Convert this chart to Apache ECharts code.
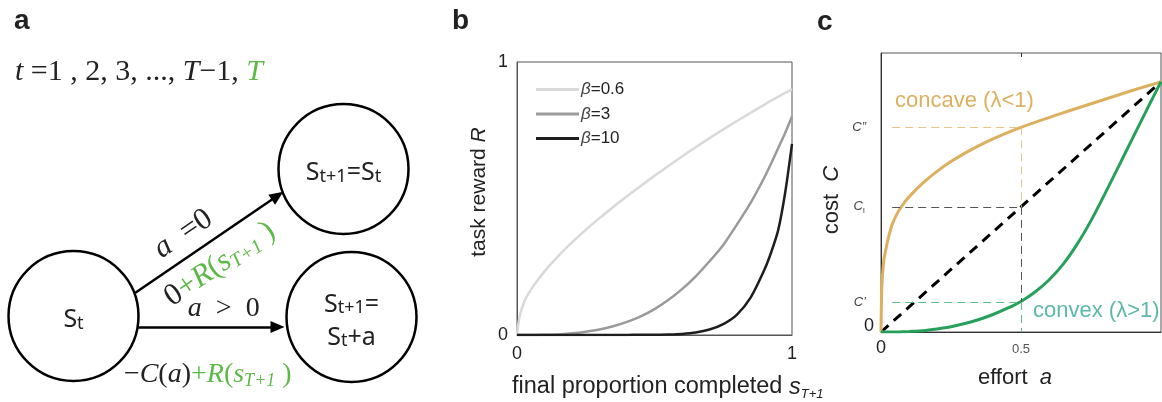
<!DOCTYPE html>
<html>
<head>
<meta charset="utf-8">
<title>effort model</title>
<script src="https://cdn.jsdelivr.net/npm/echarts@6/dist/echarts.min.js"></script>
<style>
  html, body { margin: 0; padding: 0; background: #fff; }
  #chart { width: 1162px; height: 402px; }
</style>
</head>
<body>
<div id="chart"></div>
<script>
// ---- panel a: state diagram ----
const nodeLabels = [
  '{S|S}{t|t}',
  '{S|S}{t|t+1}{S|=S}{t|t}',
  '{S|S}{t|t+1}{S|=}\n{S|S}{t|t}{S|+a}'
];
const nodeX = [73.5, 343.5, 351.5];
const nodeY = [316, 169, 317];
// arrow start points and arrow-head centres
const edgeFrom = [[135, 293], [138, 327]];
const edgeTo = [[277.5, 195.8], [277.5, 327]];

// ---- panel b: task reward vs final proportion completed ----
const sValues = [0, 0.01, 0.03, 0.06, 0.1, 0.15, 0.2, 0.25, 0.3, 0.35, 0.4, 0.45, 0.5,
  0.55, 0.6, 0.65, 0.7, 0.75, 0.8, 0.85, 0.9, 0.925, 0.95, 0.975, 1];
const rewardBeta06 = [0, 0.07, 0.13, 0.18, 0.233, 0.289, 0.339, 0.385, 0.428, 0.469, 0.508, 0.546, 0.583,
  0.619, 0.654, 0.688, 0.721, 0.753, 0.784, 0.814, 0.844, 0.859, 0.873, 0.887, 0.90];
const rewardBeta3 = [0, 0, 0, 0, 0.001, 0.002, 0.006, 0.012, 0.02, 0.032, 0.048, 0.068, 0.095,
  0.128, 0.168, 0.215, 0.27, 0.33, 0.405, 0.485, 0.578, 0.63, 0.685, 0.74, 0.80];
const rewardBeta10 = [0, 0, 0, 0, 0, 0, 0, 0, 0, 0, 0, 0.001, 0.001,
  0.002, 0.004, 0.009, 0.02, 0.04, 0.075, 0.138, 0.24, 0.305, 0.385, 0.52, 0.70];
const betaNames = ['β=0.6', 'β=3', 'β=10'];

// ---- panel c: cost vs effort ----
const effortValues = [0, 0.002, 0.005, 0.01, 0.02, 0.03, 0.04, 0.06, 0.08, 0.1, 0.15, 0.2, 0.25, 0.3,
  0.35, 0.4, 0.45, 0.5, 0.55, 0.6, 0.65, 0.7, 0.75, 0.8, 0.85, 0.9, 0.95, 1];
const costConcave = [0, 0.15, 0.22, 0.285, 0.345, 0.392, 0.43, 0.478, 0.512, 0.54, 0.596, 0.642, 0.681, 0.715,
  0.745, 0.772, 0.796, 0.818, 0.838, 0.857, 0.876, 0.894, 0.912, 0.93, 0.948, 0.966, 0.983, 1.0];
const costConvex = [0, 0, 0, 0, 0, 0, 0, 0, 0.001, 0.002, 0.005, 0.012, 0.021, 0.034,
  0.05, 0.07, 0.094, 0.122, 0.16, 0.208, 0.27, 0.35, 0.445, 0.553, 0.665, 0.778, 0.89, 1.0];
const diagEffort = [0, 1];
const diagCost = [0, 1];
const cPrime = 0.12;
const cLinear = 0.5;
const cDoublePrime = 0.818;
const costAxisMax = 1.115;

const SANS = "'Liberation Sans', Arial, Helvetica, sans-serif";
const SERIF = "'Liberation Serif', 'DejaVu Serif', serif";
const NODE_FONT = "'Noto Sans', 'Open Sans', sans-serif";
const GREEN = '#5cb947';
const GOLD = '#dcb05f';
const CONVEX = '#27a05b';

const zip = (xs, ys) => xs.map((x, i) => [x, ys[i]]);

const mathStyles = (size, subSize) => ({
  m: { fontFamily: SERIF, fontSize: size, color: '#222' },
  i: { fontFamily: SERIF, fontSize: size, fontStyle: 'italic', color: '#222' },
  g: { fontFamily: SERIF, fontSize: size, color: GREEN },
  gi: { fontFamily: SERIF, fontSize: size, fontStyle: 'italic', color: GREEN },
  gs: { fontFamily: SERIF, fontSize: subSize, fontStyle: 'italic', color: GREEN, padding: [Math.round(subSize * 0.7), 0, 0, 0] }
});
const rewardLabel = '{g|+}{gi|R}{g|(}{gi|s}{gs|T+1}{g| )}';

// graphic rich styles use zrender naming (fill)
const txt = (size, extra) => Object.assign({ fontFamily: SANS, fontSize: size, fill: '#222' }, extra || {});

const guide = (color) => ({
  silent: true,
  symbol: 'none',
  label: { show: false },
  lineStyle: { color: color, width: 1, type: [8, 5] },
  animation: false
});

const curve = { showSymbol: false, symbol: 'none', smooth: 0.25 };

const chart = echarts.init(document.getElementById('chart'));

chart.setOption({
  animation: false,
  backgroundColor: '#fff',
  grid: [
    { left: 517, top: 62, width: 275, height: 273, show: true, borderColor: '#555', borderWidth: 1, outerBoundsMode: 'none' },
    { left: 881, top: 53, width: 280, height: 279, show: true, borderColor: '#555', borderWidth: 1, outerBoundsMode: 'none' },
    { left: 0, top: 0, width: 420, height: 402, outerBoundsMode: 'none' }
  ],
  xAxis: [
    {
      gridIndex: 0, type: 'value', min: 0, max: 1, interval: 1,
      axisLine: { lineStyle: { color: '#555' } },
      axisTick: { show: false }, splitLine: { show: false },
      axisLabel: { fontFamily: SANS, fontSize: 18, color: '#222', margin: 10 }
    },
    {
      gridIndex: 1, type: 'value', min: 0, max: 1, interval: 0.5,
      axisLine: { lineStyle: { color: '#333' } },
      axisTick: { show: false }, splitLine: { show: false },
      axisLabel: {
        margin: 7, showMaxLabel: false,
        formatter: v => (v === 0 ? '{z|0}' : (v === 0.5 ? '{h|0.5}' : '')),
        rich: {
          z: { fontFamily: SANS, fontSize: 18, color: '#222' },
          h: { fontFamily: SANS, fontSize: 13, color: '#555', padding: [4, 0, 0, 0] }
        }
      }
    },
    { gridIndex: 2, type: 'value', min: 0, max: 420, show: false }
  ],
  yAxis: [
    {
      gridIndex: 0, type: 'value', min: 0, max: 1, interval: 1,
      axisLine: { show: true, lineStyle: { color: '#555' } },
      axisTick: { show: false }, splitLine: { show: false },
      axisLabel: { fontFamily: SANS, fontSize: 18, color: '#222', margin: 9 }
    },
    {
      gridIndex: 1, type: 'value', min: 0, max: costAxisMax,
      axisLine: { show: true, lineStyle: { color: '#333' } },
      axisTick: { show: false }, splitLine: { show: false },
      axisLabel: {
        customValues: [0, cPrime, cLinear, cDoublePrime], margin: 7,
        formatter: v => {
          if (v === 0) return '{z|0}';
          if (v === cLinear) return '{c|C}{s|I}';
          if (v === cPrime) return '{c|C’}{p|}';
          return '{c|C”}{p|}';
        },
        rich: {
          z: { fontFamily: SANS, fontSize: 18, color: '#222', padding: [0, 0, 11, 0] },
          c: { fontFamily: SANS, fontSize: 13, fontStyle: 'italic', color: '#444' },
          s: { fontFamily: SANS, fontSize: 8, color: '#444', padding: [8, 9, 0, 0] },
          p: { width: 8 }
        }
      }
    },
    { gridIndex: 2, type: 'value', min: 0, max: 402, inverse: true, show: false }
  ],
  legend: {
    data: betaNames,
    left: 536, top: 81, orient: 'vertical', padding: 0,
    icon: 'rect', itemWidth: 43, itemHeight: 3, itemGap: 7.5,
    selectedMode: false,
    textStyle: {
      fontFamily: SANS, fontSize: 17, color: '#222', padding: [0, 0, 0, -3],
      rich: { b: { fontFamily: SANS, fontSize: 17, fontStyle: 'italic', color: '#444' } }
    },
    formatter: name => '{b|β}' + name.slice(1)
  },
  series: [
    Object.assign({
      name: betaNames[0], type: 'line', xAxisIndex: 0, yAxisIndex: 0,
      data: zip(sValues, rewardBeta06), color: '#d9d9d9',
      lineStyle: { color: '#d9d9d9', width: 2.5 }
    }, curve),
    Object.assign({
      name: betaNames[1], type: 'line', xAxisIndex: 0, yAxisIndex: 0,
      data: zip(sValues, rewardBeta3), color: '#9a9a9a',
      lineStyle: { color: '#9a9a9a', width: 2.5 }
    }, curve),
    Object.assign({
      name: betaNames[2], type: 'line', xAxisIndex: 0, yAxisIndex: 0,
      data: zip(sValues, rewardBeta10), color: '#1e1e1e',
      lineStyle: { color: '#1e1e1e', width: 2.5 }
    }, curve),
    {
      name: 'linear', type: 'line', xAxisIndex: 1, yAxisIndex: 1,
      data: zip(diagEffort, diagCost), showSymbol: false, symbol: 'none',
      lineStyle: { color: '#000', width: 3, type: [10, 7] },
      markLine: Object.assign(guide('#555'), {
        data: [
          [{ coord: [0.04, cLinear] }, { coord: [0.5, cLinear] }],
          [{ coord: [0.5, cLinear] }, { coord: [0.5, cPrime] }],
          // small inward tick on the top frame at a = 0.5
          [{ coord: [0.5, costAxisMax], lineStyle: { type: 'solid', color: '#333' } }, { coord: [0.5, costAxisMax - 0.016] }]
        ]
      })
    },
    Object.assign({
      name: 'concave', type: 'line', xAxisIndex: 1, yAxisIndex: 1,
      data: zip(effortValues, costConcave),
      lineStyle: { color: GOLD, width: 3 },
      markLine: Object.assign(guide('#e6c688'), {
        data: [
          [{ coord: [0.04, cDoublePrime] }, { coord: [0.5, cDoublePrime] }],
          [{ coord: [0.5, cDoublePrime] }, { coord: [0.5, cLinear] }]
        ]
      })
    }, curve),
    Object.assign({
      name: 'convex', type: 'line', xAxisIndex: 1, yAxisIndex: 1,
      data: zip(effortValues, costConvex),
      lineStyle: { color: CONVEX, width: 3 },
      markLine: Object.assign(guide('#5fbf8a'), {
        data: [
          [{ coord: [0.04, cPrime] }, { coord: [0.5, cPrime] }],
          [{ coord: [0.5, cPrime] }, { coord: [0.5, 0] }]
        ]
      })
    }, curve),
    {
      name: 'states', type: 'scatter', xAxisIndex: 2, yAxisIndex: 2,
      data: zip(nodeX, nodeY), symbol: 'circle', symbolSize: 130, silent: true, z: 2,
      itemStyle: { color: '#fff', borderColor: '#000', borderWidth: 2.5, opacity: 1 },
      label: {
        show: true, position: 'inside',
        formatter: p => nodeLabels[p.dataIndex],
        rich: {
          S: { fontFamily: NODE_FONT, fontSize: 25, color: '#222', lineHeight: 33, verticalAlign: 'bottom' },
          t: { fontFamily: NODE_FONT, fontSize: 18, color: '#222', lineHeight: 33, verticalAlign: 'bottom' }
        }
      },
      markLine: {
        silent: true,
        animation: false,
        symbol: ['none', 'triangle'],
        symbolSize: [12, 14],
        lineStyle: { color: '#000', width: 2.5, type: 'solid' },
        label: { show: true, rich: mathStyles(28, 18) },
        data: [
          [{ coord: edgeFrom[0], label: { position: 'insideMiddleTop', distance: 6, padding: [0, 26, 0, 0], rich: mathStyles(31, 20), formatter: '{i|a}{m|  =0}' } },
           { coord: edgeTo[0] }],
          [{ coord: edgeFrom[0], symbol: 'none', lineStyle: { color: 'rgba(0,0,0,0)', width: 0 }, label: { position: 'insideMiddleBottom', distance: 7, rich: mathStyles(31, 20), formatter: '{m|0}' + rewardLabel } },
           { coord: edgeTo[0], symbol: 'none' }],
          [{ coord: edgeFrom[1], label: { position: 'insideMiddleTop', distance: 4, padding: [0, 0, 0, 32], formatter: '{i|a}{m|  >  0}' } },
           { coord: edgeTo[1] }],
          [{ coord: edgeFrom[1], symbol: 'none', lineStyle: { color: 'rgba(0,0,0,0)', width: 0 }, label: { position: 'insideMiddleBottom', distance: 32, formatter: '{m|−}{i|C}{m|(}{i|a}{m|)}' + rewardLabel } },
           { coord: edgeTo[1], symbol: 'none' }]
        ]
      }
    }
  ],
  graphic: [
    // panel letters
    { type: 'text', x: 14, y: 21, style: { text: 'a', font: 'bold 28px ' + SANS, fill: '#222', verticalAlign: 'middle' } },
    { type: 'text', x: 452, y: 21, style: { text: 'b', font: 'bold 28px ' + SANS, fill: '#222', verticalAlign: 'middle' } },
    { type: 'text', x: 817, y: 22, style: { text: 'c', font: 'bold 28px ' + SANS, fill: '#222', verticalAlign: 'middle' } },
    // time steps
    {
      type: 'text', x: 15, y: 72,
      style: {
        text: '{i|t}{m| =1 , 2, 3, ..., }{i|T}{m|−1, }{g|T}',
        verticalAlign: 'middle',
        rich: {
          m: { fontFamily: SERIF, fontSize: 30, fill: '#222' },
          i: { fontFamily: SERIF, fontSize: 30, fontStyle: 'italic', fill: '#222' },
          g: { fontFamily: SERIF, fontSize: 30, fontStyle: 'italic', fill: GREEN }
        }
      }
    },
    // panel b axis titles
    {
      type: 'text', x: 479, y: 192, rotation: Math.PI / 2,
      style: {
        text: '{n|task reward }{i|R}', align: 'center', verticalAlign: 'middle',
        rich: { n: txt(21), i: txt(21, { fontStyle: 'italic' }) }
      }
    },
    {
      type: 'text', x: 512, y: 387,
      style: {
        text: '{n|final proportion completed }{i|s}{s|T+1}', align: 'left', verticalAlign: 'middle',
        rich: { n: txt(23.5), i: txt(23.5, { fontStyle: 'italic' }), s: txt(13, { fontStyle: 'italic', padding: [14, 0, 0, 0] }) }
      }
    },
    // panel c axis titles
    {
      type: 'text', x: 832, y: 200, rotation: Math.PI / 2,
      style: {
        text: '{n|cost  }{i|C}', align: 'center', verticalAlign: 'middle',
        rich: { n: txt(22), i: txt(22, { fontStyle: 'italic' }) }
      }
    },
    {
      type: 'text', x: 1015, y: 378,
      style: {
        text: '{n|effort  }{i|a}', align: 'center', verticalAlign: 'middle',
        rich: { n: txt(22), i: txt(22, { fontStyle: 'italic' }) }
      }
    },
    // panel c curve names
    {
      type: 'text', x: 895, y: 101,
      style: { text: 'concave (λ<1)', font: '22px ' + SANS, fill: GOLD, verticalAlign: 'middle' }
    },
    {
      type: 'text', x: 1033, y: 311,
      style: { text: 'convex (λ>1)', font: '22px ' + SANS, fill: '#5bb8aa', verticalAlign: 'middle' }
    }
  ]
});
</script>
</body>
</html>
